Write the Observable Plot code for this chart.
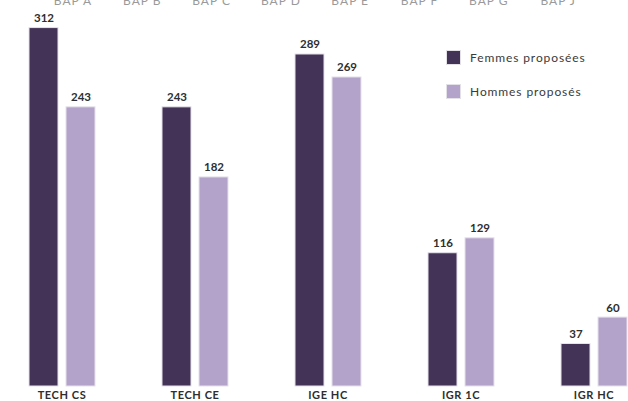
<!DOCTYPE html>
<html>
<head>
<meta charset="utf-8">
<script src="https://cdn.jsdelivr.net/npm/d3@7"></script>
<script src="https://cdn.jsdelivr.net/npm/@observablehq/plot@0.6"></script>
<style>
  html, body { margin: 0; padding: 0; background: #fff; overflow: hidden; }
  #wrap { position: relative; width: 628px; height: 401px; font-family: Lato, "Open Sans", sans-serif; }
  #bap { position: absolute; left: 0; top: -6px; width: 628px; height: 14px; }
  #bap span { position: absolute; transform: translateX(-50%); font-size: 12px; line-height: 14px; color: #9a9a9a; letter-spacing: 1px; white-space: nowrap; }
  #legend { position: absolute; left: 447px; top: 51px; }
  .item { display: flex; align-items: center; height: 13px; margin-bottom: 21px; }
  .sw { width: 13px; height: 13px; margin-right: 10px; box-shadow: 0 0 0 1px #e4e0e8; }
  .lab { font-size: 12px; color: #3a3a3a; letter-spacing: 0.9px; white-space: nowrap; }
</style>
</head>
<body>
<div id="wrap">
  <div id="bap"></div>
  <div id="chart"></div>
  <div id="legend"></div>
</div>
<script>
// Grades and the two series shown for each one
const grades = ["TECH CS", "TECH CE", "IGE HC", "IGR 1C", "IGR HC"];
const series = ["Femmes proposées", "Hommes proposés"];
const femmes = [312, 243, 289, 116, 37];
const hommes = [243, 182, 269, 129, 60];
const colors = ["#433457", "#b3a2c9"];
// Column headers of the panel above
const bapLabels = ["BAP A", "BAP B", "BAP C", "BAP D", "BAP E", "BAP F", "BAP G", "BAP J"];

const rows = grades.flatMap((g, i) => [
  {grade: g, serie: series[0], value: femmes[i]},
  {grade: g, serie: series[1], value: hommes[i]}
]);

const chart = Plot.plot({
  width: 628,
  height: 401,
  marginTop: 0,
  marginBottom: 15,
  marginLeft: 27,
  marginRight: 0,
  style: {fontFamily: "Lato, 'Open Sans', sans-serif", background: "#fff"},
  fx: {domain: grades, paddingInner: 0.495, paddingOuter: 0, label: null, axis: "bottom", tickSize: 0, tickPadding: 5},
  x: {domain: series, paddingInner: 0.224, paddingOuter: 0, axis: null},
  y: {domain: [0, 336], axis: null},
  color: {domain: series, range: colors},
  marks: [
    Plot.barY(rows, {fx: "grade", x: "serie", y: "value", fill: "serie", stroke: "#e6e2ea", strokeWidth: 1}),
    Plot.text(rows, {fx: "grade", x: "serie", y: "value", text: d => String(d.value), lineAnchor: "bottom", dy: -6,
      fontSize: 11.5, fontWeight: 700, fill: "#2e2e2e", style: "letter-spacing:0.8px"})
  ]
});

d3.select(chart).selectAll("g[aria-label='fx-axis tick label'] text, g[aria-label='fx-axis tick label']")
  .attr("font-size", 11).attr("font-weight", 700).attr("fill", "#2e2e2e").style("letter-spacing", "0.6px");

document.getElementById("chart").appendChild(chart);

const bap = d3.select("#bap");
bapLabels.forEach((t, i) => {
  bap.append("span").style("left", (73 + i * 69.3) + "px").text(t);
});

const legend = d3.select("#legend");
series.forEach((s, i) => {
  const it = legend.append("div").attr("class", "item");
  it.append("div").attr("class", "sw").style("background", colors[i]);
  it.append("div").attr("class", "lab").text(s);
});
</script>
</body>
</html>
